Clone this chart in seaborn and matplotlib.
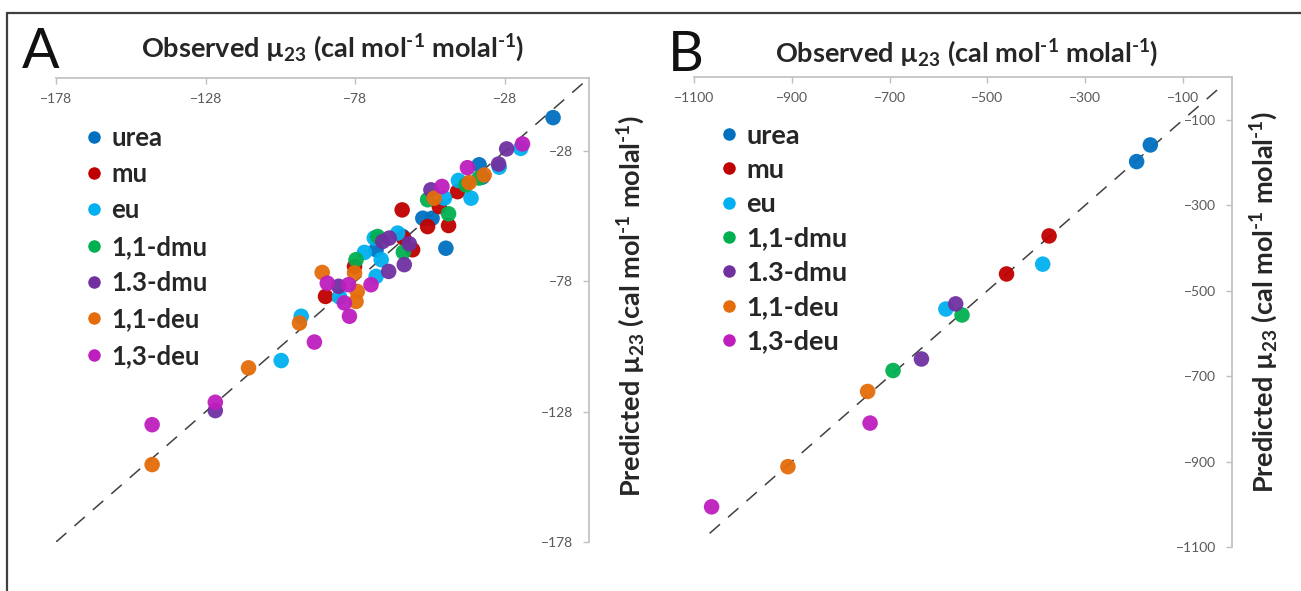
import pandas as pd
import seaborn as sns
import matplotlib.pyplot as plt
from matplotlib.lines import Line2D

# series order / colours as in the original Excel chart
labels = ['urea', 'mu', 'eu', '1,1-dmu', '1.3-dmu', '1,1-deu', '1,3-deu']
colors = ['#0070C0', '#C00000', '#00B0F0', '#00B050', '#7030A0', '#E46C0A', '#BE1EBE']

# Panel A: observed vs predicted mu23 (small range)
a_urea_x = [-12.0, -36.7, -35.6, -55.5, -52.4, -47.8, -62.2, -71.1]
a_urea_y = [-15.2, -33.3, -38.0, -53.8, -53.8, -65.3, -60.8, -65.9]
a_mu_x = [-43.9, -50.0, -46.9, -62.4, -53.9, -61.9, -58.9, -78.3, -88.0]
a_mu_y = [-43.6, -49.3, -56.6, -50.6, -57.0, -61.4, -65.9, -72.3, -83.8]
a_eu_x = [-22.8, -30.0, -43.6, -39.4, -48.3, -63.9, -71.7, -75.0, -69.4, -71.1, -83.3, -96.1, -102.8]
a_eu_y = [-27.0, -34.2, -39.3, -46.1, -46.1, -59.5, -61.4, -66.9, -69.7, -76.1, -84.0, -91.4, -108.4]
a_dmu11_x = [-36.7, -41.1, -53.9, -46.9, -62.0, -70.6, -77.8]
a_dmu11_y = [-38.4, -41.0, -46.7, -52.1, -66.8, -60.8, -69.7]
a_dmu13_x = [-27.5, -30.2, -52.8, -66.7, -68.9, -60.0, -61.7, -66.9, -83.6, -124.8]
a_dmu13_y = [-27.2, -33.0, -42.9, -61.4, -62.7, -63.6, -71.6, -74.2, -79.9, -127.6]
a_deu11_x = [-35.0, -40.0, -51.7, -78.3, -89.1, -77.4, -77.8, -96.7, -113.7, -145.9]
a_deu11_y = [-37.2, -40.1, -46.1, -74.8, -74.6, -81.9, -85.7, -94.0, -111.2, -148.3]
a_deu13_x = [-22.2, -40.6, -49.1, -72.8, -87.4, -80.3, -81.7, -80.0, -91.7, -124.8, -145.9]
a_deu13_y = [-25.3, -34.4, -41.6, -79.3, -78.7, -79.3, -86.3, -91.4, -101.3, -124.4, -133.0]

# Panel B: observed vs predicted mu23 (large range)
b_urea_x = [-195, -167]
b_urea_y = [-198, -159]
b_mu_x = [-461, -374]
b_mu_y = [-461, -372]
b_eu_x = [-585, -387]
b_eu_y = [-543, -438]
b_dmu11_x = [-693, -552]
b_dmu11_y = [-687, -557]
b_dmu13_x = [-635, -565]
b_dmu13_y = [-660, -531]
b_deu11_x = [-908, -745]
b_deu11_y = [-912, -736]
b_deu13_x = [-1064, -740]
b_deu13_y = [-1006, -810]

a_ticks = [-178, -128, -78, -28]
b_ticks = [-1100, -900, -700, -500, -300, -100]
a_line = [-178, 0]
b_line = [-1068, -15]


def frame(xs, ys):
    rows = []
    for lab, x, y in zip(labels, xs, ys):
        for xi, yi in zip(x, y):
            rows.append({'Observed': xi, 'Predicted': yi, 'Compound': lab})
    return pd.DataFrame(rows)


dfA = frame([a_urea_x, a_mu_x, a_eu_x, a_dmu11_x, a_dmu13_x, a_deu11_x, a_deu13_x],
            [a_urea_y, a_mu_y, a_eu_y, a_dmu11_y, a_dmu13_y, a_deu11_y, a_deu13_y])
dfB = frame([b_urea_x, b_mu_x, b_eu_x, b_dmu11_x, b_dmu13_x, b_deu11_x, b_deu13_x],
            [b_urea_y, b_mu_y, b_eu_y, b_dmu11_y, b_dmu13_y, b_deu11_y, b_deu13_y])

sns.set_style('white')
plt.rcParams['font.family'] = ['Lato', 'DejaVu Sans']
plt.rcParams['mathtext.fontset'] = 'custom'
plt.rcParams['mathtext.rm'] = 'Lato:bold'
plt.rcParams['mathtext.it'] = 'Lato:bold'
plt.rcParams['mathtext.bf'] = 'Lato:bold'

W, H = 1301, 591
fig = plt.figure(figsize=(W / 100, H / 100), dpi=100)
axA = fig.add_axes([56 / W, 1 - 542 / H, 533 / W, 464 / H])
axB = fig.add_axes([694 / W, 1 - 547 / H, 538 / W, 470 / H])

palette = dict(zip(labels, colors))
xlab = 'Observed µ$_{23}$ (cal mol$^{\u2010 1}$ molal$^{\u2010 1}$)'
ylab = 'Predicted µ$_{23}$ (cal mol$^{\u2010 1}$ molal$^{\u2010 1}$)'


def panel(ax, df, lo, ticks, line, leg_xy, leg_size, leg_space, xl_xy, yl_xy):
    ax.plot(line, line, color='#404040', lw=1.1, dashes=(9, 7), zorder=1)
    sns.scatterplot(data=df, x='Observed', y='Predicted', hue='Compound',
                    hue_order=labels, palette=palette, s=125, linewidth=0,
                    alpha=0.95, ax=ax, zorder=2)
    ax.set_xlim(lo, 0)
    ax.set_ylim(lo, 0)
    ax.set_xticks(ticks)
    ax.set_yticks(ticks)
    ax.xaxis.tick_top()
    ax.yaxis.tick_right()
    for s in ['left', 'bottom']:
        ax.spines[s].set_visible(False)
    for s in ['top', 'right']:
        ax.spines[s].set_color('#bfbfbf')
        ax.spines[s].set_linewidth(1.2)
    ax.tick_params(axis='x', direction='in', length=4, width=1, color='#bfbfbf',
                   pad=-11, labelsize=10, labelcolor='#595959')
    ax.tick_params(axis='y', direction='in', length=4, width=1, color='#bfbfbf',
                   pad=-11.5, labelsize=10, labelcolor='#595959')
    for t in ax.xaxis.get_major_ticks():
        t.label2.set_va('top')
    for t in ax.yaxis.get_major_ticks():
        t.label2.set_ha('right')

    ax.xaxis.set_label_position('top')
    ax.set_xlabel(xlab, fontsize=19.5, fontweight='bold')
    ax.xaxis.label.set_va('baseline')
    ax.xaxis.set_label_coords(*xl_xy)
    ax.yaxis.set_label_position('right')
    ax.set_ylabel(ylab, fontsize=19.5, fontweight='bold', rotation=90)
    ax.yaxis.label.set_va('center')
    ax.yaxis.set_label_coords(*yl_xy)

    handles = [Line2D([], [], ls='none', marker='o', ms=9, mew=0, color=c) for c in colors]
    ax.legend(handles, labels, loc='upper left', bbox_to_anchor=leg_xy,
              frameon=False, borderpad=0, borderaxespad=0, handlelength=0.7,
              handletextpad=0.3, labelspacing=leg_space,
              prop={'family': ['Lato', 'DejaVu Sans'], 'weight': 'bold', 'size': leg_size})


panel(axA, dfA, -178, a_ticks, a_line, (0.055, 0.897), 18.5, 0.48,
      ((333 - 56) / 533, (542 - 57) / 464), ((631 - 56) / 533, (542 - 306) / 464))
panel(axB, dfB, -1100, b_ticks, b_line, (0.047, 0.901), 19.5, 0.38,
      ((967 - 694) / 538, (547 - 62) / 470), ((1264 - 694) / 538, (547 - 302) / 470))

fig.text(22 / W, 1 - 68 / H, 'A', fontsize=40, va='baseline', ha='left', color='#111111')
fig.text(668 / W, 1 - 71 / H, 'B', fontsize=40, va='baseline', ha='left', color='#111111')

# outer frame of the original figure (top and left edges)
fig.add_artist(Line2D([7 / W, 1], [1 - 13 / H, 1 - 13 / H], color='#404040', lw=1.6))
fig.add_artist(Line2D([7 / W, 7 / W], [0, 1 - 13 / H], color='#404040', lw=1.6))

fig.savefig('out.png', dpi=100)
